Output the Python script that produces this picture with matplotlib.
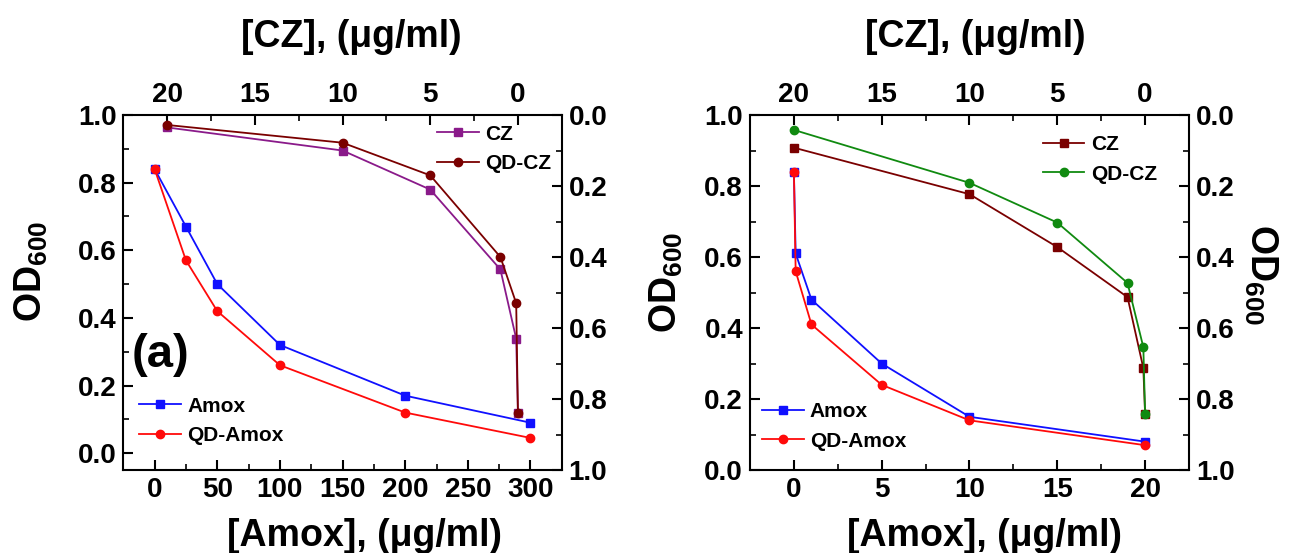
import matplotlib

matplotlib.use("Agg")
import matplotlib.pyplot as plt
from matplotlib.ticker import MultipleLocator

plt.rcParams.update(
    {
        "font.family": "Liberation Sans",
        "font.weight": "bold",
        "axes.labelweight": "bold",
        "mathtext.fontset": "custom",
        "mathtext.rm": "Liberation Sans:bold",
        "mathtext.bf": "Liberation Sans:bold",
        "mathtext.it": "Liberation Sans:bold",
        "axes.linewidth": 1.5,
    }
)

# Panel (a): Amox 0-300 ug/ml, CZ 0-20 ug/ml
amox_a_x = [0, 25, 50, 100, 200, 300]
amox_a = [0.84, 0.67, 0.50, 0.32, 0.17, 0.09]
qd_amox_a = [0.84, 0.57, 0.42, 0.26, 0.12, 0.045]
cz_a_x = [20, 10, 5, 1, 0.1, 0]
cz_a = [0.035, 0.10, 0.21, 0.435, 0.63, 0.84]
qd_cz_a = [0.028, 0.078, 0.17, 0.40, 0.53, 0.84]

# Panel (b): Amox 0-20 ug/ml, CZ 0-20 ug/ml
amox_b_x = [0, 0.1, 1, 5, 10, 20]
amox_b = [0.84, 0.61, 0.48, 0.30, 0.15, 0.08]
qd_amox_b = [0.84, 0.56, 0.41, 0.24, 0.14, 0.07]
cz_b_x = [20, 10, 5, 1, 0.1, 0]
cz_b = [0.092, 0.223, 0.372, 0.513, 0.713, 0.842]
qd_cz_b = [0.042, 0.191, 0.303, 0.473, 0.654, 0.842]

OD_LABEL = r"OD$_{\mathbf{600}}$"
TICK_FS = 20
LABEL_FS = 27
LEG_FS = 15


def style_ticks(ax):
    ax.tick_params(which="major", direction="in", length=7, width=1.5, labelsize=TICK_FS, pad=5)
    ax.tick_params(which="minor", direction="in", length=4, width=1.2)


def draw_panel(fig, rect, amox_x, amox, qd_amox, cz_x, cz, qd_cz, xlim, xmajor, ylim_left,
               cz_color, qd_cz_color, cz_leg_anchor, amox_leg_anchor, left_pad, right_label,
               label_pos):
    bottom_x, top_x, left_y, right_y = label_pos

    ax = fig.add_axes(rect)
    ax.plot(amox_x, amox, "-s", color="#1010ff", lw=1.3, ms=5.5, label="Amox")
    ax.plot(amox_x, qd_amox, "-o", color="#ff0a0a", lw=1.3, ms=6, label="QD-Amox")
    ax.set_xlim(*xlim)
    ax.set_ylim(*ylim_left)
    ax.xaxis.set_major_locator(MultipleLocator(xmajor))
    ax.xaxis.set_minor_locator(MultipleLocator(xmajor / 2))
    ax.yaxis.set_major_locator(MultipleLocator(0.2))
    ax.yaxis.set_minor_locator(MultipleLocator(0.1))
    ax.yaxis.set_major_formatter(plt.FuncFormatter(lambda v, p: f"{v:.1f}"))
    style_ticks(ax)
    ax.set_xlabel("[Amox], (μg/ml)", fontsize=LABEL_FS, labelpad=11)
    ax.xaxis.label.set_x(bottom_x)
    ax.set_ylabel(OD_LABEL, fontsize=LABEL_FS, labelpad=left_pad)
    ax.yaxis.label.set_y(left_y)
    ax.legend(loc="lower left", bbox_to_anchor=amox_leg_anchor, frameon=False, fontsize=LEG_FS,
              handlelength=2.0, handletextpad=0.3, labelspacing=0.5, borderpad=0, borderaxespad=0)

    ax2 = fig.add_axes(rect, frameon=False)
    ax2.plot(cz_x, cz, "-s", color=cz_color, lw=1.3, ms=5.5, label="CZ")
    ax2.plot(cz_x, qd_cz, "-o", color=qd_cz_color, lw=1.3, ms=6, label="QD-CZ")
    ax2.set_xlim(22.5, -2.5)
    ax2.set_ylim(1.0, 0.0)
    ax2.xaxis.tick_top()
    ax2.yaxis.tick_right()
    ax2.xaxis.set_label_position("top")
    ax2.yaxis.set_label_position("right")
    ax2.xaxis.set_major_locator(MultipleLocator(5))
    ax2.xaxis.set_minor_locator(MultipleLocator(2.5))
    ax2.yaxis.set_major_locator(MultipleLocator(0.2))
    ax2.yaxis.set_minor_locator(MultipleLocator(0.1))
    ax2.yaxis.set_major_formatter(plt.FuncFormatter(lambda v, p: f"{v:.1f}"))
    style_ticks(ax2)
    ax2.set_xlabel("[CZ], (μg/ml)", fontsize=LABEL_FS, labelpad=25)
    ax2.xaxis.label.set_x(top_x)
    if right_label:
        ax2.set_ylabel(OD_LABEL, fontsize=LABEL_FS, rotation=270, labelpad=32)
        ax2.yaxis.label.set_y(right_y)
    ax2.legend(loc="upper left", bbox_to_anchor=cz_leg_anchor, frameon=False, fontsize=LEG_FS,
               handlelength=2.0, handletextpad=0.3, labelspacing=0.5, borderpad=0, borderaxespad=0)
    return ax, ax2


fig = plt.figure(figsize=(12.9, 5.53), dpi=100)

ax_a, _ = draw_panel(fig, [0.0956, 0.150, 0.3399, 0.642], amox_a_x, amox_a, qd_amox_a,
                     cz_a_x, cz_a, qd_cz_a, (-25, 325), 50, (-0.05, 1.0),
                     "#8a1a8a", "#7a0000", (0.716, 0.973), (0.036, 0.07), 20, False,
                     (0.551, 0.519, 0.56, 0.5))
ax_a.text(0.019, 0.324, "(a)", transform=ax_a.transAxes, fontsize=34, va="center", ha="left")

draw_panel(fig, [0.5814, 0.150, 0.3403, 0.642], amox_b_x, amox_b, qd_amox_b,
           cz_b_x, cz_b, qd_cz_b, (-2.5, 22.5), 5, (0.0, 1.0),
           "#7a0000", "#108a10", (0.667, 0.943), (0.027, 0.055), 14, True,
           (0.535, 0.513, 0.53, 0.55))

fig.savefig("out.png", dpi=100)
